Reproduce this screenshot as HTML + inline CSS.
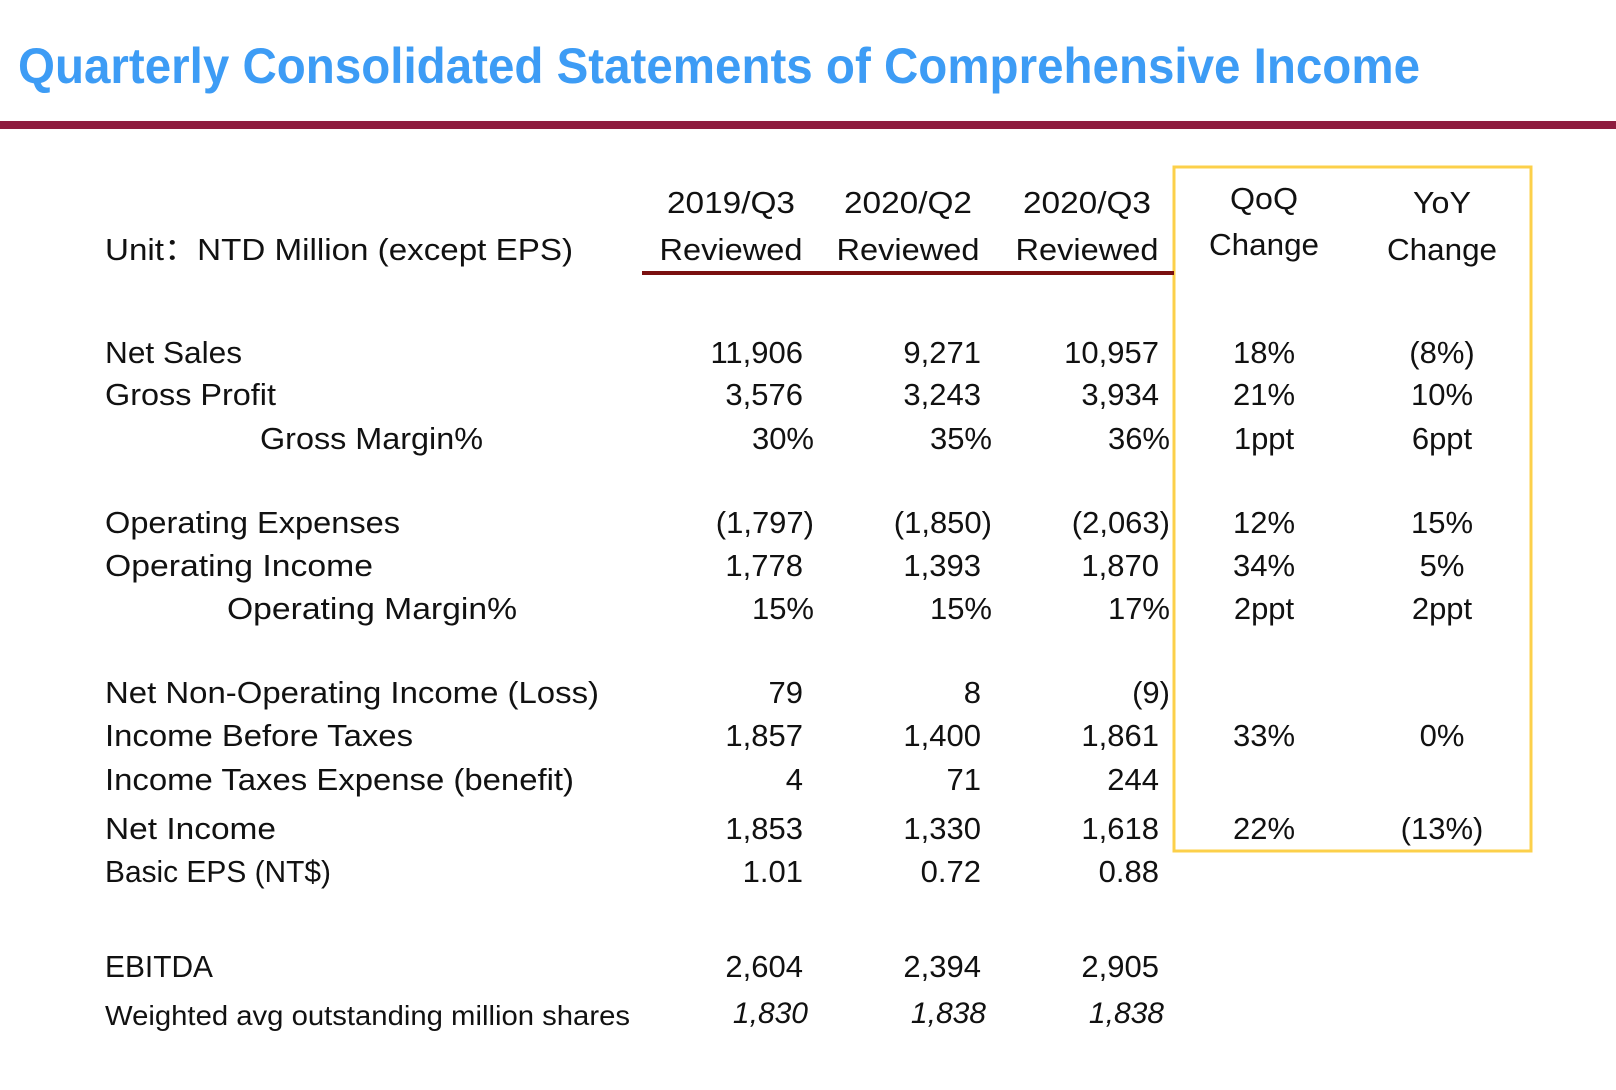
<!DOCTYPE html>
<html><head><meta charset="utf-8"><style>
html,body{margin:0;padding:0;background:#fff;}
svg{display:block;}
text{font-family:"Liberation Sans",sans-serif;fill:#111;}
.n{font-size:31px;text-anchor:end;}
.l{font-size:31px;}
.c{font-size:31px;text-anchor:middle;}
.i{font-size:30px;text-anchor:end;font-style:italic;}
</style></head><body>
<svg width="1616" height="1090" viewBox="0 0 1616 1090">
<text x="18" y="83" style="font-size:50px;font-weight:bold;fill:#3d9cf5" textLength="1402" lengthAdjust="spacingAndGlyphs">Quarterly Consolidated Statements of Comprehensive Income</text>
<rect x="0" y="121" width="1616" height="8" fill="#8e1c3f"/>
<rect x="1174" y="167" width="357" height="684" fill="none" stroke="#fcd04a" stroke-width="3"/>
<rect x="642" y="271" width="532" height="4" fill="#7a1010"/>

<text class="c" x="731" y="213" textLength="128" lengthAdjust="spacingAndGlyphs">2019/Q3</text>
<text class="c" x="908" y="213" textLength="128" lengthAdjust="spacingAndGlyphs">2020/Q2</text>
<text class="c" x="1087" y="213" textLength="128" lengthAdjust="spacingAndGlyphs">2020/Q3</text>
<text class="c" x="731" y="260" textLength="143" lengthAdjust="spacingAndGlyphs">Reviewed</text>
<text class="c" x="908" y="260" textLength="143" lengthAdjust="spacingAndGlyphs">Reviewed</text>
<text class="c" x="1087" y="260" textLength="143" lengthAdjust="spacingAndGlyphs">Reviewed</text>
<text class="c" x="1264" y="209" textLength="68" lengthAdjust="spacingAndGlyphs">QoQ</text>
<text class="c" x="1264" y="255" textLength="110" lengthAdjust="spacingAndGlyphs">Change</text>
<text class="c" x="1442" y="213" textLength="58" lengthAdjust="spacingAndGlyphs">YoY</text>
<text class="c" x="1442" y="260" textLength="110" lengthAdjust="spacingAndGlyphs">Change</text>
<text class="l" x="105" y="260" textLength="468" lengthAdjust="spacingAndGlyphs">Unit：NTD Million (except EPS)</text>

<!-- labels -->
<text class="l" x="105" y="363" textLength="137" lengthAdjust="spacingAndGlyphs">Net Sales</text>
<text class="l" x="105" y="405" textLength="171" lengthAdjust="spacingAndGlyphs">Gross Profit</text>
<text class="l" x="260" y="449" textLength="223" lengthAdjust="spacingAndGlyphs">Gross Margin%</text>
<text class="l" x="105" y="533" textLength="295" lengthAdjust="spacingAndGlyphs">Operating Expenses</text>
<text class="l" x="105" y="576" textLength="268" lengthAdjust="spacingAndGlyphs">Operating Income</text>
<text class="l" x="227" y="619" textLength="290" lengthAdjust="spacingAndGlyphs">Operating Margin%</text>
<text class="l" x="105" y="703" textLength="494" lengthAdjust="spacingAndGlyphs">Net Non-Operating Income (Loss)</text>
<text class="l" x="105" y="746" textLength="308" lengthAdjust="spacingAndGlyphs">Income Before Taxes</text>
<text class="l" x="105" y="790" textLength="469" lengthAdjust="spacingAndGlyphs">Income Taxes Expense (benefit)</text>
<text class="l" x="105" y="839" textLength="171" lengthAdjust="spacingAndGlyphs">Net Income</text>
<text class="l" x="105" y="882" textLength="226" lengthAdjust="spacingAndGlyphs">Basic EPS (NT$)</text>
<text class="l" x="105" y="977" textLength="108" lengthAdjust="spacingAndGlyphs">EBITDA</text>
<text class="l" x="105" y="1025" style="font-size:28px" textLength="525" lengthAdjust="spacingAndGlyphs">Weighted avg outstanding million shares</text>

<!-- col1 -->
<g>
<text class="n" x="803" y="363">11,906</text>
<text class="n" x="803" y="405">3,576</text>
<text class="n" x="814" y="449">30%</text>
<text class="n" x="814" y="533">(1,797)</text>
<text class="n" x="803" y="576">1,778</text>
<text class="n" x="814" y="619">15%</text>
<text class="n" x="803" y="703">79</text>
<text class="n" x="803" y="746">1,857</text>
<text class="n" x="803" y="790">4</text>
<text class="n" x="803" y="839">1,853</text>
<text class="n" x="803" y="882">1.01</text>
<text class="n" x="803" y="977">2,604</text>
<text class="i" x="808" y="1023">1,830</text>
</g>
<g>
<text class="n" x="981" y="363">9,271</text>
<text class="n" x="981" y="405">3,243</text>
<text class="n" x="992" y="449">35%</text>
<text class="n" x="992" y="533">(1,850)</text>
<text class="n" x="981" y="576">1,393</text>
<text class="n" x="992" y="619">15%</text>
<text class="n" x="981" y="703">8</text>
<text class="n" x="981" y="746">1,400</text>
<text class="n" x="981" y="790">71</text>
<text class="n" x="981" y="839">1,330</text>
<text class="n" x="981" y="882">0.72</text>
<text class="n" x="981" y="977">2,394</text>
<text class="i" x="986" y="1023">1,838</text>
</g>
<g>
<text class="n" x="1159" y="363">10,957</text>
<text class="n" x="1159" y="405">3,934</text>
<text class="n" x="1170" y="449">36%</text>
<text class="n" x="1170" y="533">(2,063)</text>
<text class="n" x="1159" y="576">1,870</text>
<text class="n" x="1170" y="619">17%</text>
<text class="n" x="1170" y="703">(9)</text>
<text class="n" x="1159" y="746">1,861</text>
<text class="n" x="1159" y="790">244</text>
<text class="n" x="1159" y="839">1,618</text>
<text class="n" x="1159" y="882">0.88</text>
<text class="n" x="1159" y="977">2,905</text>
<text class="i" x="1164" y="1023">1,838</text>
</g>
<g>
<text class="c" x="1264" y="363">18%</text>
<text class="c" x="1264" y="405">21%</text>
<text class="c" x="1264" y="449">1ppt</text>
<text class="c" x="1264" y="533">12%</text>
<text class="c" x="1264" y="576">34%</text>
<text class="c" x="1264" y="619">2ppt</text>
<text class="c" x="1264" y="746">33%</text>
<text class="c" x="1264" y="839">22%</text>
<text class="c" x="1442" y="363">(8%)</text>
<text class="c" x="1442" y="405">10%</text>
<text class="c" x="1442" y="449">6ppt</text>
<text class="c" x="1442" y="533">15%</text>
<text class="c" x="1442" y="576">5%</text>
<text class="c" x="1442" y="619">2ppt</text>
<text class="c" x="1442" y="746">0%</text>
<text class="c" x="1442" y="839">(13%)</text>
</g>
</svg>
</body></html>
